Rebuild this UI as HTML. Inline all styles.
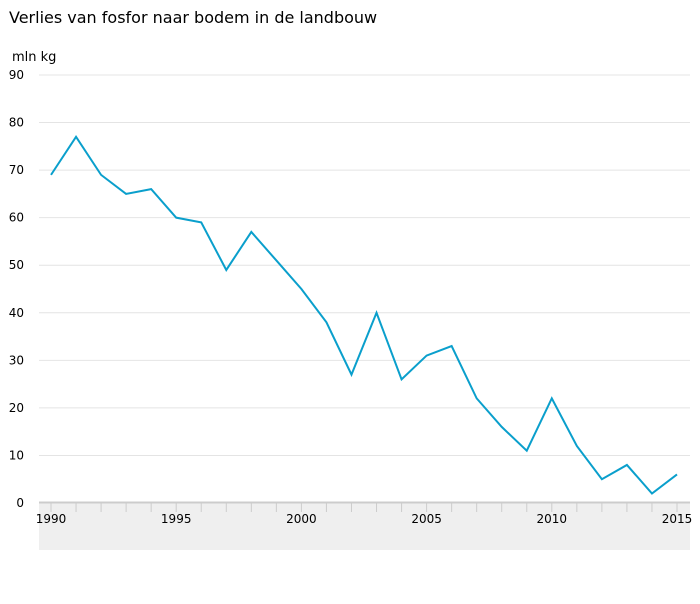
<!DOCTYPE html>
<html><head><meta charset="utf-8"><style>
body{margin:0;background:#fff;font-family:"DejaVu Sans","Liberation Sans",sans-serif;}
svg text{font-family:"DejaVu Sans","Liberation Sans",sans-serif;}
</style></head><body>
<svg width="700" height="600">
<text x="9" y="23" font-size="16" fill="#000">Verlies van fosfor naar bodem in de landbouw</text>
<text x="12" y="61" font-size="13" fill="#000">mln kg</text>
<rect x="39" y="503" width="651" height="47" fill="#efefef"/>
<g id="grid"></g><g id="xax"></g>
<line x1="39" x2="690" y1="502.5" y2="502.5" stroke="#ccc" stroke-width="2"/>
<path id="line" fill="none" stroke="#0a9fcc" stroke-width="2"/>
</svg>
<script>
const years=[1990,1991,1992,1993,1994,1995,1996,1997,1998,1999,2000,2001,2002,2003,2004,2005,2006,2007,2008,2009,2010,2011,2012,2013,2014,2015];
const values=[69,77,69,65,66,60,59,49,57,51,45,38,27,40,26,31,33,22,16,11,22,12,5,8,2,6];
const yTicks=[0,10,20,30,40,50,60,70,80,90];
const xLabels=[1990,1995,2000,2005,2010,2015];
const ns="http://www.w3.org/2000/svg";
const x=v=>51+(v-1990)*(677-51)/25;
const y=v=>503-v*(503-75)/90;
const grid=document.getElementById('grid');
yTicks.forEach(t=>{
 if(t>0){const l=document.createElementNS(ns,'line');
 l.setAttribute('x1',39);l.setAttribute('x2',690);l.setAttribute('y1',y(t));l.setAttribute('y2',y(t));
 l.setAttribute('stroke','#e4e4e4');l.setAttribute('stroke-width','1');
 
 
 grid.appendChild(l);}
 const tx=document.createElementNS(ns,'text');
 tx.setAttribute('x',24);tx.setAttribute('y',y(t)+4);tx.setAttribute('text-anchor','end');tx.setAttribute('font-size','12');
 tx.textContent=t;
 
 
 grid.appendChild(tx);
});
const xax=document.getElementById('xax');
years.forEach(yr=>{
 const l=document.createElementNS(ns,'line');
 l.setAttribute('x1',x(yr));l.setAttribute('x2',x(yr));l.setAttribute('y1',503);l.setAttribute('y2',512);
 l.setAttribute('stroke','#ccc');
 
 
 xax.appendChild(l);
});
xLabels.forEach(yr=>{
 const tx=document.createElementNS(ns,'text');
 tx.setAttribute('x',x(yr));tx.setAttribute('y',523);tx.setAttribute('text-anchor','middle');tx.setAttribute('font-size','12');
 tx.textContent=yr;
 
 
 xax.appendChild(tx);
});
document.getElementById('line').setAttribute('d',years.map((yr,i)=>(i?'L':'M')+x(yr)+','+y(values[i])).join(''));
</script>
</body></html>
